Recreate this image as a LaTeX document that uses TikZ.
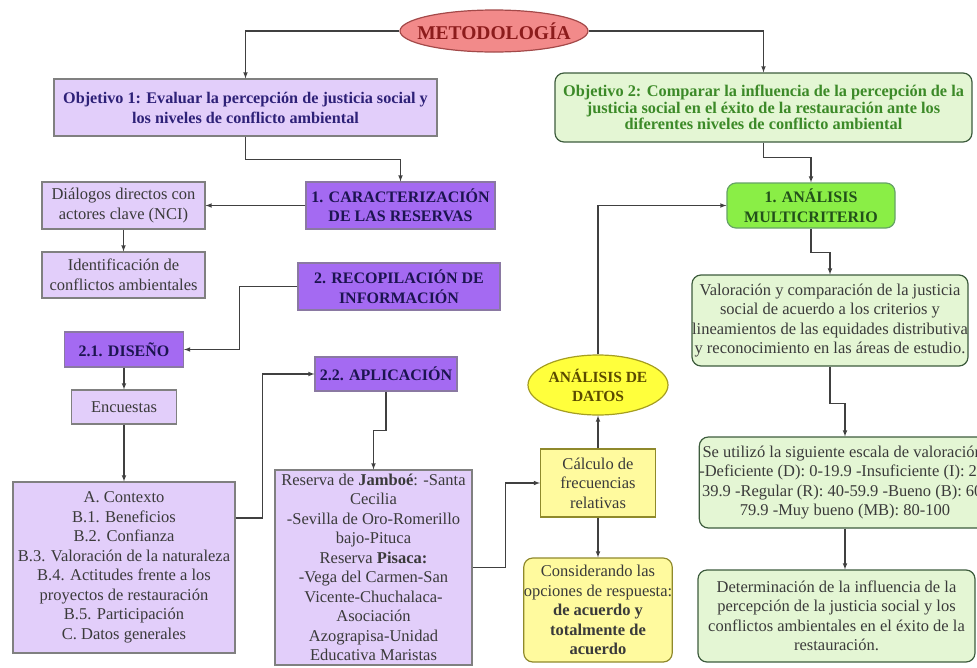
\documentclass[tikz,border=0pt]{standalone}
\usepackage{fontspec}
\setmainfont{Liberation Serif}
\usetikzlibrary{shapes.geometric}

\definecolor{lila}{HTML}{E2CEFA}
\definecolor{morado}{HTML}{A46AF2}
\definecolor{verdeclaro}{HTML}{E4F6D4}
\definecolor{verde}{HTML}{8AEE46}
\definecolor{amarillo}{HTML}{FFFF3C}
\definecolor{amarilloclaro}{HTML}{FFFA9E}
\definecolor{rosa}{HTML}{F28A8A}
\definecolor{tinta}{HTML}{3A3A3A}
\definecolor{tintaazul}{HTML}{2E2178}
\definecolor{tintanavy}{HTML}{1C1450}
\definecolor{tintaverde}{HTML}{3C8A28}
\definecolor{tintaoscura}{HTML}{22501A}
\definecolor{tintaroja}{HTML}{8C1C1C}
\definecolor{tintaocre}{HTML}{5A4A00}
\definecolor{linea}{HTML}{404040}

\begin{document}
\begin{tikzpicture}[>=latex, x=1pt, y=-1pt,
  every node/.style={align=center, inner sep=0pt, text=tinta,
    font=\fontsize{16.5}{19.5}\selectfont},
  lila/.style={draw=gray, fill=lila, line width=1.2pt},
  etapa/.style={draw=gray!70!morado, fill=morado, line width=1.2pt, text=tintanavy,
    font=\fontsize{16}{19.5}\selectfont\bfseries},
  verdebox/.style={draw=gray!80!green!60!black, fill=verdeclaro, line width=1.2pt, rounded corners=9pt},
  amarillobox/.style={draw=olive!70!gray, fill=amarilloclaro, line width=1.2pt},
  flecha/.style={->, draw=linea, line width=1.1pt}]

\path[use as bounding box, clip] (0,0) rectangle (977,667);

% titulo
\node(met)[ellipse, draw=tintaroja!80, fill=rosa, line width=1.2pt, minimum width=188pt, minimum height=42pt,
  text=tintaroja, font=\fontsize{19.5}{22}\selectfont\bfseries] at (494,31) {\makebox[110pt]{METODOLOGÍA}};

% objetivos
\node(obj1)[lila, minimum width=383pt, minimum height=57pt, text=tintaazul,
  font=\fontsize{16.2}{20}\selectfont\bfseries] at (245.5,107.5)
  {Objetivo 1: Evaluar la percepción de justicia social y\\los niveles de conflicto ambiental};
\node(obj2)[verdebox, minimum width=417pt, minimum height=69pt, text=tintaverde,
  font=\fontsize{16.3}{16.5}\selectfont\bfseries] at (763.5,107.5)
  {Objetivo 2: Comparar la influencia de la percepción de la\\justicia social en el éxito de la restauración ante los\\diferentes niveles de conflicto ambiental};

% rama izquierda
\node(car)[etapa, minimum width=189pt, minimum height=47pt] at (400.5,205.5) {1. CARACTERIZACIÓN\\DE LAS RESERVAS};
\node(dia)[lila, minimum width=163pt, minimum height=47pt] at (123.5,205.5) {Diálogos directos con\\actores clave (NCI)};
\node(ide)[lila, minimum width=163pt, minimum height=46pt] at (123.5,275) {Identificación de\\conflictos ambientales};
\node(rec)[etapa, minimum width=202pt, minimum height=47pt] at (399,286.5) {2. RECOPILACIÓN DE\\INFORMACIÓN};
\node(dis)[etapa, minimum width=119pt, minimum height=35pt] at (124,349.5) {2.1. DISEÑO};
\node(enc)[lila, minimum width=105pt, minimum height=34pt] at (124,407) {Encuestas};
\node(lst)[lila, minimum width=222pt, minimum height=171pt] at (124,567.5)
  {A. Contexto\\B.1. Beneficios\\B.2. Confianza\\B.3. Valoración de la naturaleza\\B.4. Actitudes frente a los\\proyectos de restauración\\B.5. Participación\\C. Datos generales};
\node(apl)[etapa, minimum width=142pt, minimum height=34pt] at (386,374) {2.2. APLICACIÓN};
\node(res)[lila, minimum width=197pt, minimum height=195pt] at (373.5,567.5)
  {Reserva de \textbf{Jamboé}: -Santa\\Cecilia\\-Sevilla de Oro-Romerillo\\bajo-Pituca\\Reserva \textbf{Pisaca:}\\-Vega del Carmen-San\\Vicente-Chuchalaca-\\Asociación\\Azograpisa-Unidad\\Educativa Maristas};

% analisis de datos
\node(cal)[amarillobox, minimum width=115pt, minimum height=68pt] at (598,483) {Cálculo de\\frecuencias\\relativas};
\node(dat)[ellipse, draw=olive!80, fill=amarillo, line width=1.2pt, minimum width=140pt, minimum height=60pt,
  text=tintaocre, font=\fontsize{15.5}{19}\selectfont\bfseries] at (598,385) {\makebox[90pt]{ANÁLISIS DE}\\DATOS};
\node(con)[amarillobox, rounded corners=9pt, minimum width=148pt, minimum height=104pt] at (598,610)
  {Considerando las\\opciones de respuesta:\\\textbf{de acuerdo y}\\\textbf{totalmente de}\\\textbf{acuerdo}};

% rama derecha
\node(ana)[verdebox, draw=green!40!black!60, fill=verde, minimum width=168pt, minimum height=45pt, text=tintaoscura,
  font=\fontsize{16}{19.5}\selectfont\bfseries] at (811,205.5) {1. ANÁLISIS\\MULTICRITERIO};
\node(val)[verdebox, minimum width=276pt, minimum height=91pt] at (830,320.5)
  {Valoración y comparación de la justicia\\social de acuerdo a los criterios y\\lineamientos de las equidades distributiva\\y reconocimiento en las áreas de estudio.};
\node(esc)[verdebox, minimum width=290pt, minimum height=91pt] at (845,482.5)
  {Se utilizó la siguiente escala de valoración:\\-Deficiente (D): 0-19.9 -Insuficiente (I): 20-\\39.9 -Regular (R): 40-59.9 -Bueno (B): 60-\\79.9 -Muy bueno (MB): 80-100};
\node(det)[verdebox, minimum width=277pt, minimum height=92pt] at (836.5,616)
  {Determinación de la influencia de la\\percepción de la justicia social y los\\conflictos ambientales en el éxito de la\\restauración.};

% conectores
\draw[flecha] (met.west) -| (obj1.north);
\draw[flecha] (met.east) -| (obj2.north);
\draw[flecha] (obj1.south) -- ++(0,23) -| (car.north);
\draw[flecha] (obj2.south) -- ++(0,15) -| (ana.north);
\draw[flecha] (car.west) -- (dia.east);
\draw[flecha] (dia.south) -- (ide.north);
\draw[flecha] (rec.west) -- ++(-58,0) |- (dis.east);
\draw[flecha] (dis.south) -- (enc.north);
\draw[flecha] (enc.south) -- (lst.north);
\draw[flecha] ([yshift=49.5pt]lst.east) -- ++(27,0) |- (apl.west);
\draw[flecha] (apl.south) -- ++(0,39) -| (res.north);
\draw[flecha] (res.east) -- ++(33,0) |- (cal.west);
\draw[flecha] (cal.north) -- (dat.south);
\draw[flecha] (cal.south) -- (con.north);
\draw[flecha] (dat.north) |- (ana.west);
\draw[flecha] (ana.south) -- ++(0,24) -| (val.north);
\draw[flecha] (val.south) -- ++(0,37) -| (esc.north);
\draw[flecha] (esc.south) -- (esc.south |- det.north);
\end{tikzpicture}
\end{document}
